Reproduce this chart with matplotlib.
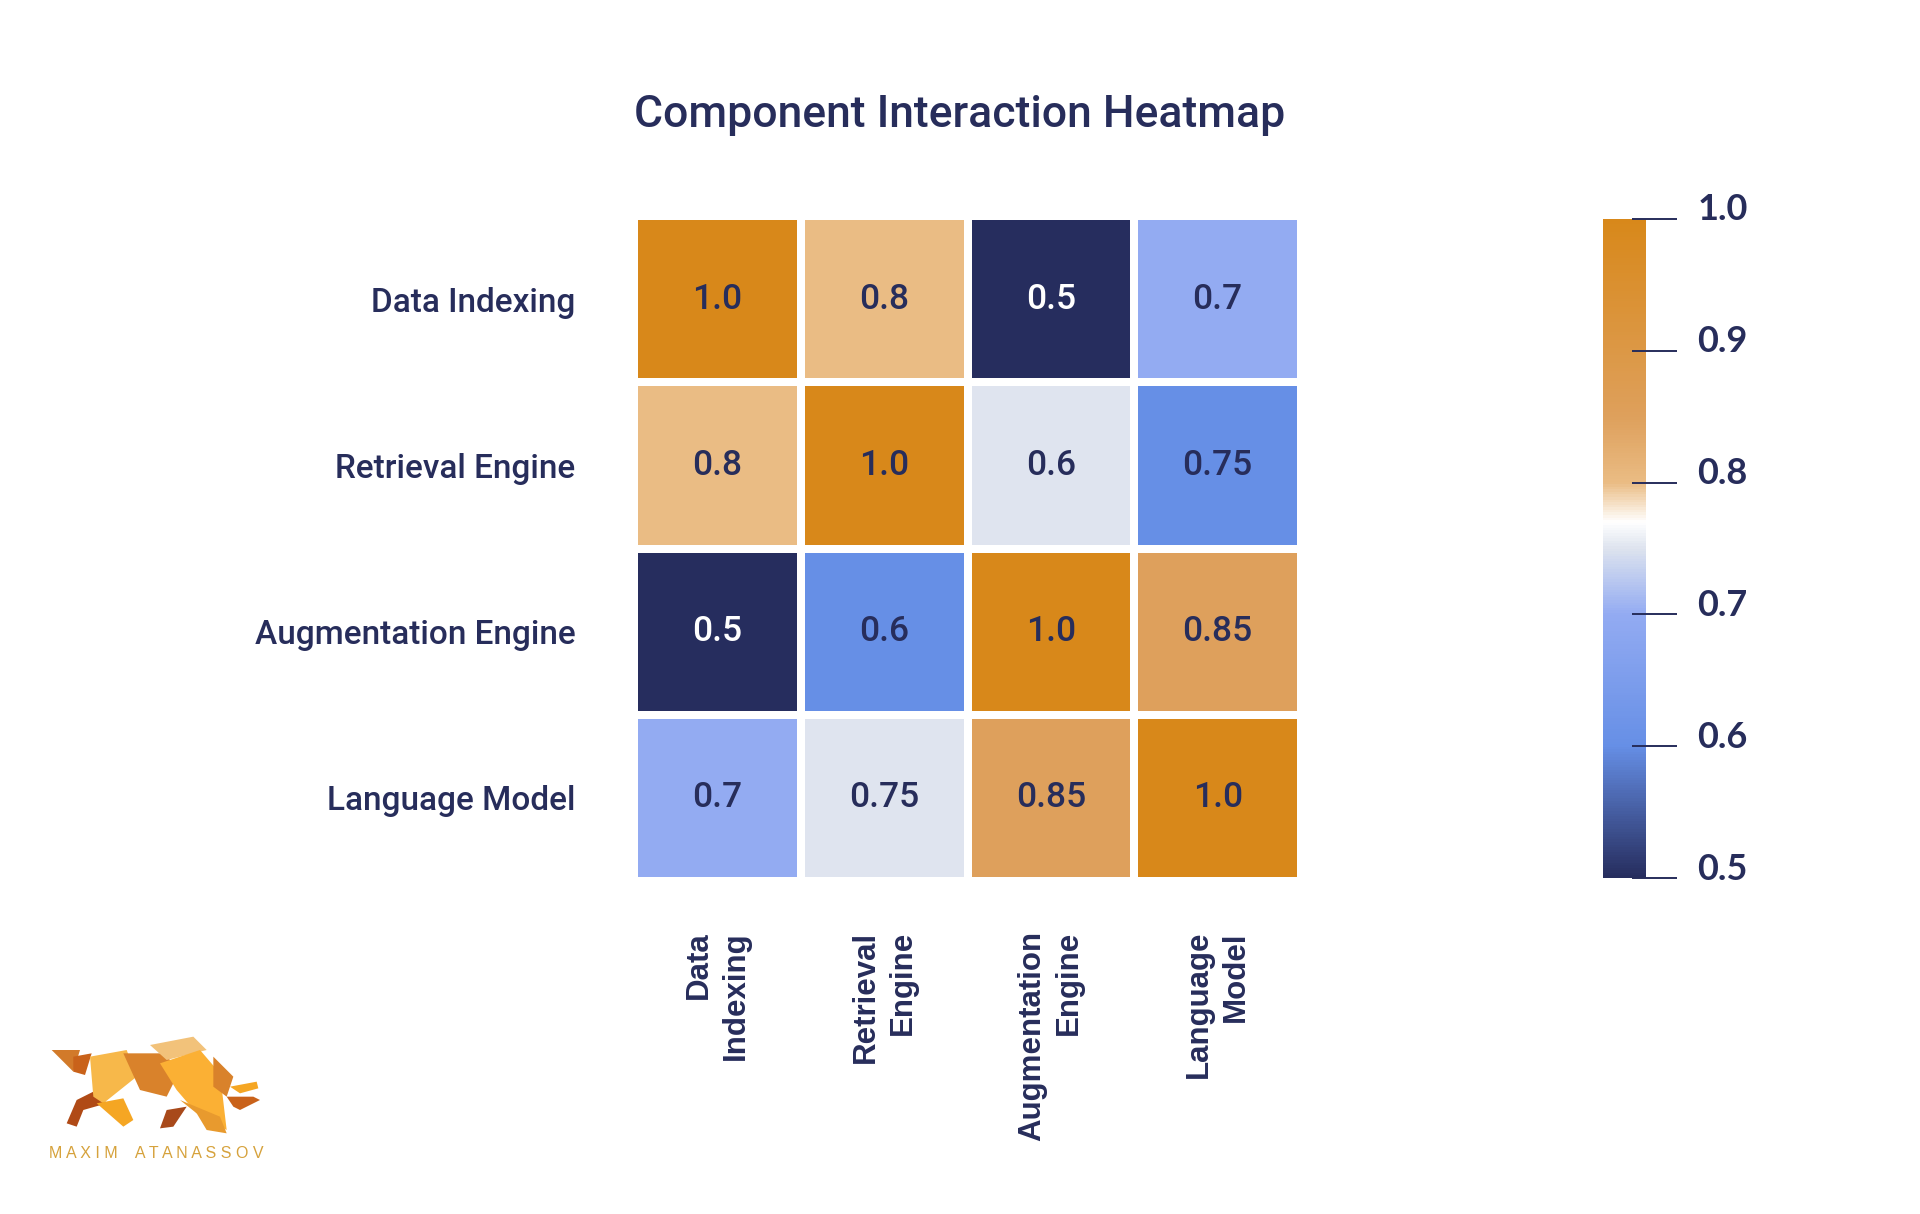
import numpy as np
import matplotlib
matplotlib.use("Agg")
import matplotlib.pyplot as plt
from matplotlib.colors import LinearSegmentedColormap
from matplotlib.transforms import ScaledTranslation
from matplotlib.patches import Polygon

# data
components = ["Data Indexing", "Retrieval Engine", "Augmentation Engine", "Language Model"]
x_labels = ["Data\nIndexing", "Retrieval\nEngine", "Augmentation\nEngine", "Language\nModel"]
# colour values as drawn in the source (row 2 colours don't follow its printed numbers)
color_values = np.array([
    [1.0, 0.8, 0.5, 0.7],
    [0.8, 1.0, 0.75, 0.6],
    [0.5, 0.6, 1.0, 0.85],
    [0.7, 0.75, 0.85, 1.0],
])
cell_text = [
    ["1.0", "0.8", "0.5", "0.7"],
    ["0.8", "1.0", "0.6", "0.75"],
    ["0.5", "0.6", "1.0", "0.85"],
    ["0.7", "0.75", "0.85", "1.0"],
]
cbar_ticks = [0.5, 0.6, 0.7, 0.8, 0.9, 1.0]

navy = "#272d5b"

# blue -> white -> orange map, white sits a bit above 0.75
vmin, vmax = 0.5, 1.0
nodes = [(0.5, "#262d5e"), (0.6, "#668fe6"), (0.7, "#93abf2"), (0.75, "#dde3ee"),
         (0.77, "#ffffff"), (0.8, "#eabc84"), (0.85, "#dea05c"), (1.0, "#d8881a")]
cmap = LinearSegmentedColormap.from_list(
    "interaction", [((v - vmin) / (vmax - vmin), c) for v, c in nodes])

W, H = 1920, 1214
fig = plt.figure(figsize=(W / 100, H / 100), dpi=100)

# heatmap
ax = fig.add_axes([634 / W, 1 - 881 / H, 667 / W, 665 / H])
mesh = ax.pcolormesh(color_values, cmap=cmap, vmin=vmin, vmax=vmax,
                     edgecolors="white", linewidth=4.4)
ax.set_xlim(0, 4)
ax.set_ylim(4, 0)
for s in ax.spines.values():
    s.set_visible(False)

for i in range(color_values.shape[0]):
    for j in range(color_values.shape[1]):
        c = "white" if color_values[i, j] < 0.55 else navy
        ax.text(j + 0.5, i + 0.5, cell_text[i][j], ha="center", va="center",
                fontsize=25.5, color=c, family="Roboto", fontweight="medium")

ax.set_yticks(np.arange(4) + 0.5)
ax.set_yticklabels(components, fontsize=24, color=navy, family="Roboto",
                   fontweight="medium")
ax.set_xticks(np.arange(4) + 0.5)
ax.set_xticklabels(x_labels, rotation=90, fontsize=22.5, color=navy,
                   family="Liberation Sans", fontweight="bold",
                   va="top", ha="center", multialignment="right",
                   linespacing=1.3)
ax.tick_params(axis="y", length=0, pad=42)
ax.tick_params(axis="x", length=0, pad=36)

# colorbar
cax = fig.add_axes([1603 / W, 1 - 878 / H, 43 / W, 659 / H])
cb = fig.colorbar(mesh, cax=cax, ticks=cbar_ticks)
cb.outline.set_visible(False)
cax.tick_params(which="major", direction="out", length=22, width=1.4,
                color=navy, pad=15, labelsize=26, labelcolor=navy)
cax.hlines(cbar_ticks, 0.67, 1.0, color=navy, lw=1.4, zorder=5, clip_on=False)
cax.set_yticklabels(["%.1f" % t for t in cbar_ticks])
up = ScaledTranslation(0, 12 / 100, fig.dpi_scale_trans)
for lab in cax.get_yticklabels():
    lab.set_family("Lato")
    lab.set_fontweight("bold")
    lab.set_transform(lab.get_transform() + up)

# title
fig.text(0.5, 1 - 115.5 / H, "Component Interaction Heatmap", ha="center",
         va="center", fontsize=32, color=navy, family="Roboto",
         fontweight="medium")

# logo (rough polygon bull)
lax = fig.add_axes([40 / W, 1 - 1150 / H, 240 / W, 120 / H])
lax.set_xlim(0, 720)
lax.set_ylim(360, 0)
lax.axis("off")
bull = [
    ("#d27a2a", [(35, 60), (120, 60), (100, 125)]),
    ("#c9621a", [(100, 80), (155, 70), (135, 135), (100, 125)]),
    ("#b04a16", [(110, 210), (170, 180), (200, 220), (130, 240), (110, 290), (80, 280)]),
    ("#f7b84a", [(150, 80), (260, 60), (290, 140), (190, 220), (160, 200)]),
    ("#d9822b", [(250, 70), (370, 70), (420, 120), (380, 200), (300, 180)]),
    ("#f2c27a", [(330, 45), (460, 20), (500, 60), (380, 90)]),
    ("#fbb034", [(360, 100), (480, 60), (540, 130), (560, 300), (470, 250), (410, 180)]),
    ("#d9822b", [(520, 80), (580, 140), (560, 200), (520, 170)]),
    ("#f5a623", [(570, 170), (650, 155), (655, 175), (600, 190)]),
    ("#c9621a", [(560, 200), (640, 200), (660, 210), (600, 240), (580, 230)]),
    ("#e89a2e", [(420, 210), (470, 250), (500, 300), (560, 310), (540, 260)]),
    ("#a8491a", [(380, 240), (440, 230), (400, 290), (360, 295)]),
    ("#f5a623", [(170, 220), (250, 205), (280, 270), (250, 290)]),
]
for col, pts in bull:
    lax.add_patch(Polygon(pts, closed=True, facecolor=col, edgecolor="none"))
fig.text(156 / W, 1 - 1153 / H, "M A X I M    A T A N A S S O V", ha="center",
         va="center", fontsize=11.5, color="#d6a23c", family="Liberation Sans")

fig.savefig("out.png", dpi=100, facecolor="white")
